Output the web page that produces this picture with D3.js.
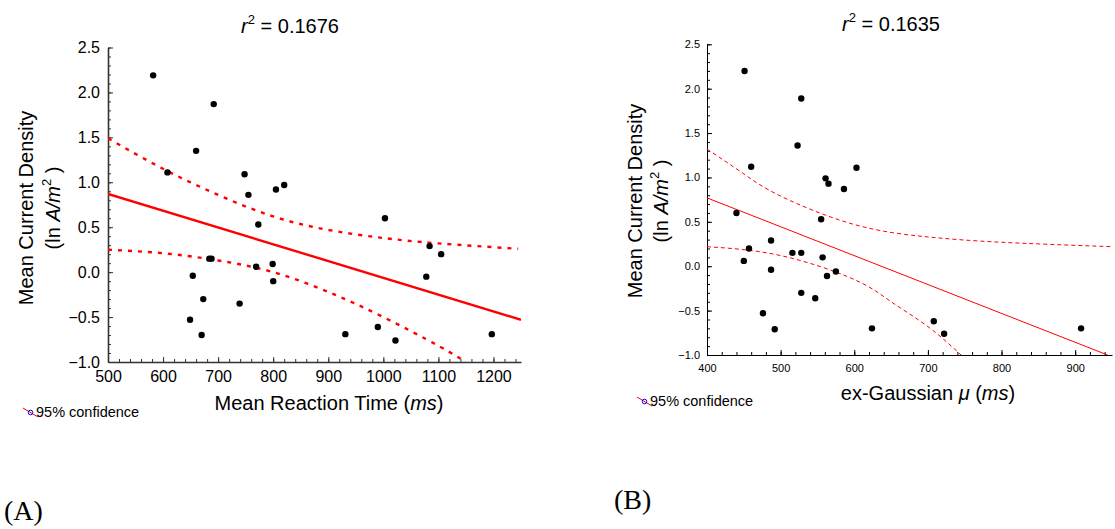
<!DOCTYPE html>
<html>
<head>
<meta charset="utf-8">
<script src="https://cdn.jsdelivr.net/npm/d3@7"></script>
<style>
  body { margin: 0; background: #fff; }
  svg { display: block; font-family: "Liberation Sans", Arial, sans-serif; }
  .tick text { fill: #000; }
  .tag { font-family: "Liberation Serif", "Times New Roman", serif; }
</style>
</head>
<body>
<svg id="chart" width="1115" height="529"></svg>
<script>
// --- Panel A: mean reaction time vs current density ----------
const rtX = [582, 608, 660, 692, 748, 755, 805, 820, 1003, 773, 684, 688, 654, 769,
             799, 800, 673, 739, 649, 670, 1084, 1105, 1078, 931, 990, 1022, 1197];
const rtY = [2.19, 1.11, 1.35, 1.87, 1.09, 0.86, 0.92, 0.97, 0.60, 0.53, 0.15, 0.15, -0.04, 0.06,
             0.09, -0.10, -0.30, -0.35, -0.53, -0.70, 0.29, 0.20, -0.05, -0.69, -0.61, -0.76, -0.69];
const rtFitX = [500, 1250];
const rtFitY = [0.87, -0.53];
const rtUpperX = [500, 600, 700, 800, 900, 1000, 1100, 1245];
const rtUpperY = [1.49, 1.15, 0.86, 0.62, 0.47, 0.38, 0.32, 0.26];
const rtLowerX = [500, 600, 700, 800, 900, 1000, 1100, 1150];
const rtLowerY = [0.25, 0.21, 0.13, 0.00, -0.22, -0.50, -0.82, -1.0];
const rtXTicks = [500, 600, 700, 800, 900, 1000, 1100, 1200];

// --- Panel B: ex-Gaussian mu vs current density -----------
const muX = [451, 460, 523, 528, 561, 565, 586, 603, 440, 555, 457, 450, 487, 487,
             516, 528, 557, 563, 575, 528, 547, 476, 492, 624, 708, 722, 908];
const muY = [2.20, 1.12, 1.36, 1.89, 0.99, 0.93, 0.87, 1.11, 0.60, 0.53, 0.20, 0.06, 0.29, -0.04,
             0.15, 0.15, 0.10, -0.11, -0.06, -0.30, -0.36, -0.53, -0.71, -0.70, -0.62, -0.76, -0.70];
const muFitX = [400, 944];
const muFitY = [0.77, -1.0];
const muUpperX = [400, 450, 500, 600, 700, 800, 950];
const muUpperY = [1.32, 1.04, 0.79, 0.47, 0.33, 0.27, 0.22];
const muLowerX = [400, 500, 600, 650, 700, 745];
const muLowerY = [0.22, 0.12, -0.15, -0.40, -0.68, -1.0];
const muXTicks = [400, 500, 600, 700, 800, 900];

const yTicks = [-1.0, -0.5, 0.0, 0.5, 1.0, 1.5, 2.0, 2.5];
const titles = ["0.1676", "0.1635"];

const svg = d3.select("#chart");
const zip = (a, b) => a.map((k, i) => [k, b[i]]);

function drawPanel(p) {
  const x = d3.scaleLinear().domain(p.xDomain).range(p.xRange);
  const y = d3.scaleLinear().domain([-1, 2.5]).range(p.yRange);
  const g = svg.append("g");

  // clip so the confidence curves stop at the axes
  const clipId = "clip" + p.id;
  svg.append("clipPath").attr("id", clipId)
    .append("rect")
    .attr("x", p.xRange[0]).attr("y", p.yRange[1])
    .attr("width", p.xRange[1] - p.xRange[0])
    .attr("height", p.yRange[0] - p.yRange[1]);

  // minor ticks first (no labels)
  const minorX = d3.range(p.xDomain[0], p.xDomain[1] + 1, 20);
  const minorY = d3.range(-10, 26, 1).map(d => d / 10);
  g.append("g")
    .attr("transform", `translate(0,${p.yRange[0]})`)
    .call(d3.axisBottom(x).tickValues(minorX).tickSize(-3).tickFormat(""))
    .call(a => a.select(".domain").remove())
    .selectAll("line").attr("stroke", p.axisColor);
  g.append("g")
    .attr("transform", `translate(${p.xRange[0]},0)`)
    .call(d3.axisLeft(y).tickValues(minorY).tickSize(-3).tickFormat(""))
    .call(a => a.select(".domain").remove())
    .selectAll("line").attr("stroke", p.axisColor);

  // major axes
  const xAxis = g.append("g")
    .attr("transform", `translate(0,${p.yRange[0]})`)
    .call(d3.axisBottom(x).tickValues(p.xTicks).tickSizeInner(-5).tickSizeOuter(0)
      .tickPadding(p.xPad).tickFormat(d3.format("d")));
  const yAxis = g.append("g")
    .attr("transform", `translate(${p.xRange[0]},0)`)
    .call(d3.axisLeft(y).tickValues(yTicks).tickSizeInner(-5).tickSizeOuter(0)
      .tickPadding(p.yPad).tickFormat(d3.format(".1f")));
  [xAxis, yAxis].forEach(a => {
    a.attr("font-family", null).attr("font-size", null);
    a.selectAll(".tick text").style("font-size", p.tickFont + "px");
    a.select(".domain").attr("stroke", p.axisColor).attr("stroke-width", p.axisWidth);
    a.selectAll(".tick line").attr("stroke", p.axisColor);
  });

  const line = d3.line().x(d => x(d[0])).y(d => y(d[1]));
  const curve = d3.line().x(d => x(d[0])).y(d => y(d[1])).curve(d3.curveNatural);
  const lines = g.append("g").attr("clip-path", `url(#${clipId})`)
    .attr("fill", "none").attr("stroke", "#f00");

  lines.append("path").attr("d", line(zip(p.fitX, p.fitY)))
    .attr("stroke-width", p.lineWidth);
  [[p.upX, p.upY], [p.loX, p.loY]].forEach(([cx, cy]) => {
    lines.append("path").attr("d", curve(zip(cx, cy)))
      .attr("stroke-width", p.lineWidth)
      .attr("stroke-dasharray", p.dash);
  });

  g.append("g").selectAll("circle")
    .data(zip(p.ptX, p.ptY))
    .join("circle")
    .attr("cx", d => x(d[0]))
    .attr("cy", d => y(d[1]))
    .attr("r", 3.2)
    .attr("fill", "#000");

  // title with r squared
  const t = g.append("text")
    .attr("x", p.titleX).attr("y", p.titleY)
    .attr("text-anchor", "middle").attr("font-size", 20);
  t.append("tspan").attr("font-style", "italic").text("r");
  t.append("tspan").attr("font-size", 13).attr("dy", -9).text("2");
  t.append("tspan").attr("dy", 9).text(" = " + p.title);

  // y label on two lines
  const yl = g.append("g")
    .attr("transform", `translate(${p.yLabX},${p.yLabY}) rotate(-90)`)
    .attr("text-anchor", "middle").attr("font-size", 20);
  yl.append("text").attr("x", 0).attr("y", 0).text("Mean Current Density");
  const l2 = yl.append("text").attr("x", 0).attr("y", p.yLabGap);
  l2.append("tspan").text("(ln ");
  l2.append("tspan").attr("font-style", "italic").text("A/m");
  l2.append("tspan").attr("font-size", 13).attr("dy", -9).text("2");
  l2.append("tspan").attr("dy", 9).text(" )");

  // x label
  const xl = g.append("text")
    .attr("x", p.xLabX).attr("y", p.xLabY)
    .attr("text-anchor", "middle").attr("font-size", 20);
  p.xLabel.forEach(([s, it]) => {
    xl.append("tspan").attr("font-style", it ? "italic" : null).text(s);
  });

  // legend
  const lg = g.append("g").attr("transform", `translate(${p.legX},${p.legY})`);
  lg.append("line").attr("x1", 0).attr("y1", -6).attr("x2", 15).attr("y2", 3)
    .attr("stroke", "#f00").attr("stroke-width", 1);
  lg.append("circle").attr("cx", 7.5).attr("cy", -1.5).attr("r", 2.3)
    .attr("fill", "none").attr("stroke", "#00f").attr("stroke-width", 1);
  lg.append("text").attr("x", 13).attr("y", 3).attr("font-size", 14.5)
    .text("95% confidence");

  svg.append("text")
    .attr("class", "tag")
    .attr("x", p.tagX).attr("y", p.tagY)
    .attr("font-size", 28)
    .text(p.tag);
}

drawPanel({
  id: "A", ptX: rtX, ptY: rtY,
  xDomain: [500, 1250], xRange: [108, 521], yRange: [362, 47.5],
  xTicks: rtXTicks, tickFont: 16, xPad: 9, yPad: 8,
  axisColor: "#333", axisWidth: 1.6, lineWidth: 2.4, dash: "4,6",
  fitX: rtFitX, fitY: rtFitY, upX: rtUpperX, upY: rtUpperY, loX: rtLowerX, loY: rtLowerY,
  title: titles[0], titleX: 290, titleY: 33,
  yLabX: 33, yLabY: 208, yLabGap: 27,
  xLabX: 329, xLabY: 410, xLabel: [["Mean Reaction Time ("], ["ms", true], [")"]],
  legX: 23, legY: 414, tag: "(A)", tagX: 4, tagY: 520
});

drawPanel({
  id: "B", ptX: muX, ptY: muY,
  xDomain: [400, 950], xRange: [707, 1112], yRange: [355, 44.3],
  xTicks: muXTicks, tickFont: 11, xPad: 9, yPad: 7,
  axisColor: "#000", axisWidth: 1, lineWidth: 1, dash: "4,3",
  fitX: muFitX, fitY: muFitY, upX: muUpperX, upY: muUpperY, loX: muLowerX, loY: muLowerY,
  title: titles[1], titleX: 891, titleY: 31,
  yLabX: 642, yLabY: 201, yLabGap: 26,
  xLabX: 928, xLabY: 400, xLabel: [["ex-Gaussian "], ["\u03bc", true], [" ("], ["ms", true], [")"]],
  legX: 637, legY: 403, tag: "(B)", tagX: 614, tagY: 509
});
</script>
</body>
</html>
